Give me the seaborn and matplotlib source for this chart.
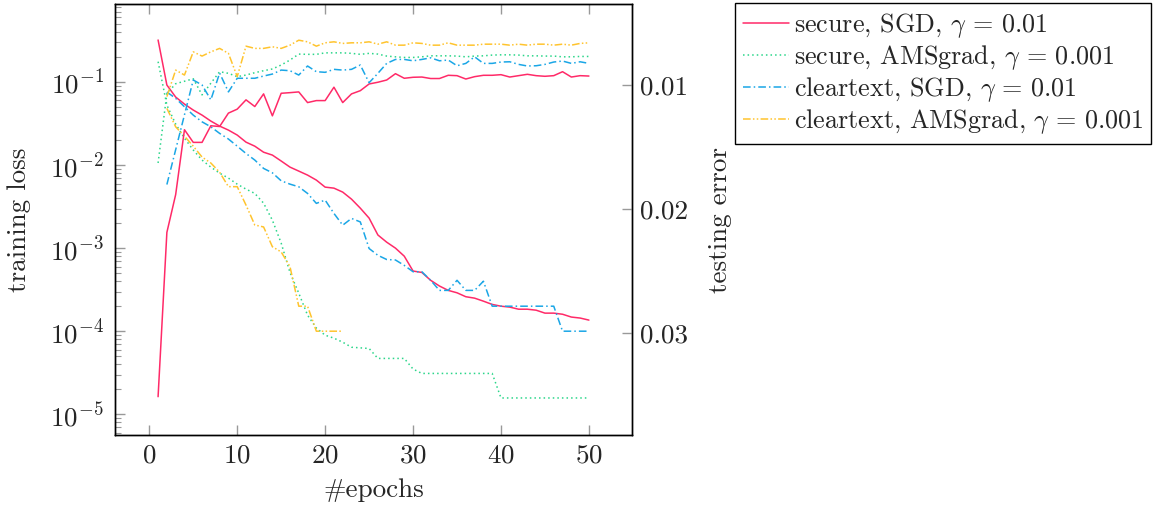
import numpy as np
import pandas as pd
import seaborn as sns
import matplotlib.pyplot as plt
from matplotlib.ticker import LogLocator, FixedLocator, FormatStrFormatter, NullFormatter

# training loss (left axis, log) and testing error (right axis, inverted)
epochs_secure = list(range(1, 51))
epochs_clear = list(range(2, 51))
epochs_clear_ams = list(range(2, 23))

secure_sgd_loss = [0.321, 0.092, 0.066, 0.0543, 0.046, 0.040, 0.0339, 0.0295, 0.0264, 0.0230,
                   0.0189, 0.0169, 0.0143, 0.0132, 0.0112, 0.00946, 0.00847, 0.00758, 0.00660, 0.00543,
                   0.00528, 0.00473, 0.00389, 0.00303, 0.00230, 0.00144, 0.00118, 0.00100, 0.00080, 0.00053,
                   0.00051, 0.00041, 0.00035, 0.00031, 0.00029, 0.00026, 0.00025, 0.00023, 0.00021, 0.00020,
                   0.000195, 0.000184, 0.000184, 0.000179, 0.000165, 0.000165, 0.000160, 0.000148, 0.000144, 0.000136]
secure_sgd_err = [0.03514, 0.02189, 0.01884, 0.01361, 0.01463, 0.01463, 0.01329, 0.01335, 0.01227, 0.01195,
                  0.01120, 0.01174, 0.01072, 0.01249, 0.01067, 0.01062, 0.01056, 0.01142, 0.01126, 0.01126,
                  0.01018, 0.01142, 0.01072, 0.01046, 0.00992, 0.00978, 0.0096, 0.00909, 0.00946, 0.00938,
                  0.00936, 0.00948, 0.00948, 0.00922, 0.00925, 0.00952, 0.00933, 0.00922, 0.00922, 0.00917,
                  0.00936, 0.00925, 0.00914, 0.00925, 0.0093, 0.00925, 0.00893, 0.00936, 0.00925, 0.00928]

secure_ams_loss = [0.176, 0.0528, 0.0312, 0.0211, 0.0152, 0.0115, 0.00946, 0.0080, 0.00697, 0.0059,
                   0.00514, 0.00456, 0.00348, 0.00217, 0.00115, 0.00051, 0.000287, 0.000156, 0.000109, 0.0000895,
                   0.0000824, 0.0000737, 0.0000641, 0.000063, 0.0000619, 0.000047, 0.000047, 0.000047, 0.000047, 0.000035,
                   0.000031, 0.000031, 0.000031, 0.000031, 0.000031, 0.000031, 0.000031, 0.000031, 0.000031, 0.0000157,
                   0.0000157, 0.0000157, 0.0000157, 0.0000157, 0.0000157, 0.0000157, 0.0000157, 0.0000157, 0.0000157, 0.0000157]
secure_ams_err = [0.01629, 0.0107, 0.0099, 0.0097, 0.0095, 0.0108, 0.00986, 0.00893, 0.00906, 0.00933,
                  0.0092, 0.00901, 0.00885, 0.00871, 0.00839, 0.00799, 0.00751, 0.00753, 0.00753, 0.00741,
                  0.00741, 0.00741, 0.00745, 0.00753, 0.00745, 0.00751, 0.00767, 0.00773, 0.00778, 0.00778,
                  0.00773, 0.00765, 0.00765, 0.00765, 0.00767, 0.00773, 0.00767, 0.00765, 0.00759, 0.00757,
                  0.00757, 0.00759, 0.00765, 0.00765, 0.00767, 0.00767, 0.00773, 0.00773, 0.0077, 0.0077]

clear_sgd_loss = [0.0758, 0.0637, 0.0504, 0.0400, 0.0332, 0.0289, 0.0241, 0.0206, 0.0169,
                  0.0138, 0.0115, 0.00912, 0.00807, 0.00647, 0.0059, 0.00548, 0.00456, 0.00346, 0.00379,
                  0.00262, 0.00189, 0.00228, 0.00207, 0.00099, 0.00082, 0.00073, 0.00072, 0.00062, 0.00052,
                  0.00052, 0.00041, 0.00031, 0.00031, 0.00041, 0.00031, 0.00031, 0.0004, 0.0002, 0.0002,
                  0.0002, 0.0002, 0.0002, 0.0002, 0.0002, 0.0002, 0.0001, 0.0001, 0.0001, 0.0001]
clear_sgd_err = [0.01803, 0.01522, 0.01241, 0.0096, 0.0100, 0.0112, 0.00904, 0.01056, 0.00946, 0.00946,
                 0.00946, 0.00928, 0.00912, 0.0088, 0.00885, 0.0092, 0.00847, 0.00893, 0.00898, 0.00874,
                 0.0088, 0.00874, 0.00839, 0.00982, 0.00906, 0.00826, 0.00794, 0.00794, 0.00805, 0.00794,
                 0.00781, 0.00805, 0.00799, 0.00845, 0.00826, 0.00773, 0.00826, 0.00826, 0.00815, 0.00813,
                 0.00834, 0.00847, 0.00845, 0.00834, 0.00815, 0.00807, 0.00826, 0.00813, 0.00826]

clear_ams_loss = [0.0482, 0.0289, 0.0223, 0.0169, 0.0125, 0.0106, 0.0082, 0.0055, 0.0055, 0.0033,
                  0.0019, 0.0018, 0.00104, 0.0009, 0.0006, 0.0002, 0.0002, 0.0001, 0.0001, 0.0001, 0.0001]
clear_ams_err = [0.01094, 0.0088, 0.0092, 0.00733, 0.00767, 0.00733, 0.00705, 0.00745, 0.00933, 0.00687,
                 0.00705, 0.00705, 0.00692, 0.00705, 0.00679, 0.00639, 0.00652, 0.00687, 0.0066, 0.00652,
                 0.00665, 0.0066, 0.0066, 0.00652, 0.00671, 0.00652, 0.00679, 0.00679, 0.0066, 0.00665,
                 0.00679, 0.00679, 0.0066, 0.00679, 0.00679, 0.00679, 0.00671, 0.00671, 0.00671, 0.00679,
                 0.00671, 0.00679, 0.00671, 0.00671, 0.00679, 0.00671, 0.00679, 0.00665, 0.0066]

labels = [r"secure, SGD, $\gamma\,=\,0.01$", r"secure, AMSgrad, $\gamma\,=\,0.001$",
          r"cleartext, SGD, $\gamma\,=\,0.01$", r"cleartext, AMSgrad, $\gamma\,=\,0.001$"]
colors = ["#ff2a68", "#2bd68a", "#1aa6e6", "#ffc42e"]
styles = ["-", (0, (1, 2)), (0, (5, 2, 1, 2)), (0, (5, 1.5, 1, 1.5, 1, 1.5))]

sns.set_style("white")
plt.rcParams['font.family'] = ['cmr10', 'DejaVu Serif']
plt.rcParams['mathtext.fontset'] = 'cm'
plt.rcParams['axes.unicode_minus'] = False
plt.rcParams['axes.formatter.use_mathtext'] = True
fs = 19.5

fig = plt.figure(figsize=(11.63, 5.08), dpi=100)
ax = fig.add_axes([115 / 1163, 1 - 435 / 508, 517 / 1163, 431 / 508])
ax2 = ax.twinx()

series = [(epochs_secure, secure_sgd_loss, secure_sgd_err),
          (epochs_secure, secure_ams_loss, secure_ams_err),
          (epochs_clear_ams, clear_ams_loss, None),
          (epochs_clear, clear_sgd_loss, clear_sgd_err)]
order = [0, 1, 3, 2]

handles = []
for i, (ep, loss, err) in zip(order, series):
    df = pd.DataFrame({"epoch": ep, "loss": loss})
    sns.lineplot(data=df, x="epoch", y="loss", ax=ax, color=colors[i],
                 linestyle=styles[i], linewidth=1.1, legend=False, label=labels[i])
    handles.append((i, ax.get_lines()[-1]))
    if err is not None:
        df2 = pd.DataFrame({"epoch": ep, "err": err})
        sns.lineplot(data=df2, x="epoch", y="err", ax=ax2, color=colors[i],
                     linestyle=styles[i], linewidth=1.1, legend=False)

# yellow testing error runs over all epochs
df_y = pd.DataFrame({"epoch": epochs_clear, "err": clear_ams_err})
sns.lineplot(data=df_y, x="epoch", y="err", ax=ax2, color=colors[3],
             linestyle=styles[3], linewidth=1.1, legend=False)

ax.set_yscale("log")
ax.set_xlim(-3.9, 54.9)
ax.set_ylim(10 ** -5.25, 10 ** -0.06)
ax2.set_ylim(0.03823, 0.00347)

ax.set_xticks([0, 10, 20, 30, 40, 50])
ax.yaxis.set_major_locator(LogLocator(base=10, numticks=10))
ax.yaxis.set_minor_locator(LogLocator(base=10, subs=np.arange(2, 10), numticks=10))
ax.yaxis.set_minor_formatter(NullFormatter())
ax2.yaxis.set_major_locator(FixedLocator([0.01, 0.02, 0.03]))
ax2.yaxis.set_major_formatter(FormatStrFormatter("%.2f"))

tick_col = "#999999"
ax.tick_params(axis="x", which="major", direction="in", top=True, bottom=True, length=7,
               width=1, color=tick_col, labelsize=fs, pad=6)
ax.tick_params(axis="y", which="major", direction="in", left=True, right=False, length=7,
               width=1, color=tick_col, labelsize=fs, pad=8)
ax.tick_params(axis="y", which="minor", direction="in", left=True, right=False, length=4,
               width=0.8, color=tick_col)
ax2.tick_params(axis="y", which="major", direction="in", right=True, left=False, length=7,
                width=1, color=tick_col, labelsize=fs, pad=6)
ax2.tick_params(axis="y", which="minor", right=False, left=False)

for a in (ax, ax2):
    for s in a.spines.values():
        s.set_color("black")
        s.set_linewidth(1.0)

ax.set_xlabel("#epochs", fontsize=fs, labelpad=8)
ax.set_ylabel("training loss", fontsize=fs, labelpad=14)
ax2.set_ylabel("testing error", fontsize=fs, labelpad=14)

handles = [h for _, h in sorted(handles, key=lambda t: t[0])]
leg = fig.legend(handles=handles, labels=labels, loc="upper left",
                 bbox_to_anchor=(735 / 1163, 1 - 3 / 508), fontsize=18.8,
                 frameon=True, fancybox=False, edgecolor="black", framealpha=1,
                 handlelength=1.75, handletextpad=0.2, labelspacing=0.12,
                 borderpad=0.3, borderaxespad=0)
leg.get_frame().set_linewidth(1.0)

fig.savefig("out.png", dpi=100)
